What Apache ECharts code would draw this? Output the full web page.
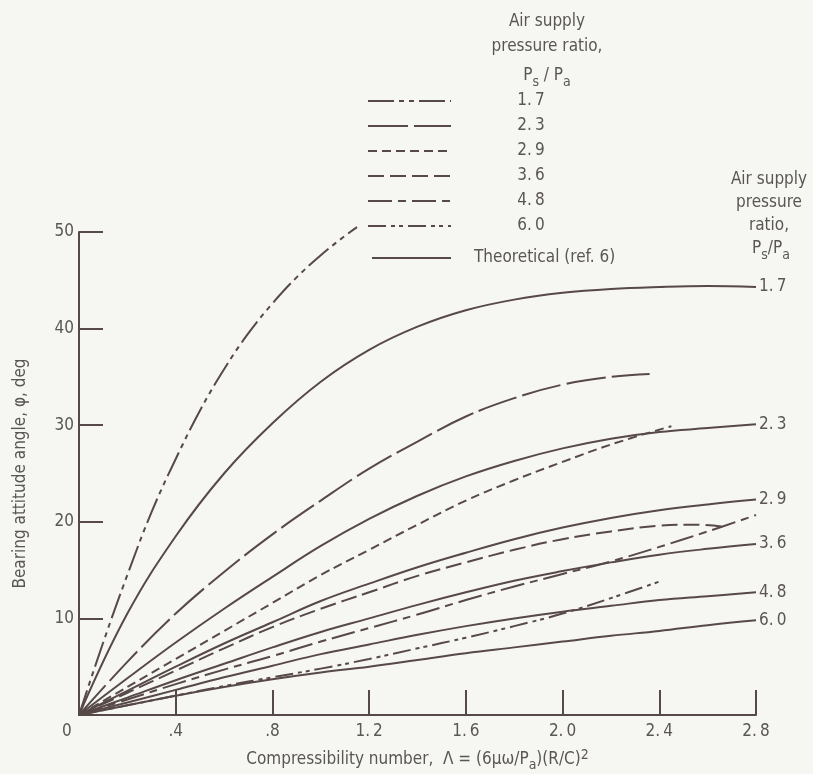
<!DOCTYPE html>
<html>
<head>
<meta charset="utf-8">
<script src="https://cdn.jsdelivr.net/npm/echarts@6/dist/echarts.min.js"></script>
<style>
  html, body { margin: 0; padding: 0; background: #f6f6f3; }
  #chart { width: 813px; height: 774px; }
</style>
</head>
<body>
<div id="chart"></div>
<script>
// pressure ratios, Ps/Pa
const ratios = ['1.7', '2.3', '2.9', '3.6', '4.8', '6.0']

// theoretical curves (ref. 6), all sampled at the same compressibility numbers
const thX = [0, 0.2, 0.4, 0.6, 0.8, 1.0, 1.2, 1.4, 1.6, 1.8, 2.0, 2.2, 2.4, 2.6, 2.8]
const th17 = [0, 10.5, 18.5, 25.0, 30.2, 34.5, 37.8, 40.2, 41.9, 43.0, 43.7, 44.1, 44.3, 44.4, 44.3]
const th23 = [0, 3.8, 7.5, 11, 14.3, 17.5, 20.3, 22.7, 24.7, 26.3, 27.6, 28.6, 29.3, 29.7, 30.1]
const th29 = [0, 2.5, 5, 7.4, 9.6, 11.8, 13.6, 15.3, 16.8, 18.2, 19.4, 20.4, 21.2, 21.8, 22.3]
const th36 = [0, 1.8, 3.6, 5.3, 7.0, 8.6, 10.0, 11.4, 12.7, 13.9, 14.9, 15.8, 16.6, 17.2, 17.7]
const th48 = [0, 1.3, 2.6, 3.9, 5.1, 6.3, 7.3, 8.3, 9.2, 10.0, 10.7, 11.3, 11.9, 12.3, 12.7]
const th60 = [0, 1.0, 2.0, 2.9, 3.7, 4.4, 5.0, 5.7, 6.4, 7.0, 7.6, 8.2, 8.7, 9.3, 9.8]

// experimental curves
const ex17X = [0, 0.1, 0.2, 0.3, 0.4, 0.5, 0.6, 0.7, 0.8, 0.9, 1.0, 1.1, 1.15]
const ex17 = [0, 7.5, 14.5, 21, 26.5, 31.5, 35.8, 39.5, 42.6, 45.3, 47.6, 49.6, 50.5]
const ex23X = [0, 0.2, 0.4, 0.6, 0.8, 1.0, 1.2, 1.4, 1.6, 1.8, 2.0, 2.2, 2.36]
const ex23 = [0, 5.5, 10.5, 14.8, 18.7, 22.2, 25.5, 28.3, 30.9, 32.8, 34.2, 35.0, 35.3]
const ex29X = [0, 0.2, 0.4, 0.6, 0.8, 1.0, 1.2, 1.4, 1.6, 1.8, 2.0, 2.2, 2.45]
const ex29 = [0, 2.9, 5.8, 8.7, 11.6, 14.5, 17.1, 19.7, 22.2, 24.3, 26.2, 28.0, 29.9]
const ex36X = [0, 0.2, 0.4, 0.6, 0.8, 1.0, 1.2, 1.4, 1.6, 1.8, 2.0, 2.2, 2.4, 2.55, 2.66]
const ex36 = [0, 2.3, 4.6, 6.9, 9.1, 11.0, 12.7, 14.4, 15.8, 17.1, 18.2, 19.0, 19.6, 19.7, 19.5]
const ex48X = [0, 0.2, 0.4, 0.6, 0.8, 1.0, 1.2, 1.4, 1.6, 1.8, 2.0, 2.2, 2.4, 2.6, 2.8]
const ex48 = [0, 1.6, 3.2, 4.7, 6.1, 7.6, 9.0, 10.4, 11.9, 13.3, 14.6, 15.9, 17.4, 19.0, 20.7]
const ex60X = [0, 0.2, 0.4, 0.6, 0.8, 1.0, 1.2, 1.4, 1.6, 1.8, 2.0, 2.2, 2.41]
const ex60 = [0, 1.0, 2.0, 3.0, 3.9, 4.8, 5.8, 6.9, 8.0, 9.2, 10.5, 12.1, 13.9]

const ink = '#574947'
const textColor = '#5a5654'
const font = '"DejaVu Sans Condensed", "DejaVu Sans", sans-serif'

// dash patterns per ratio, same order as ratios
const dashes = [
  [26, 5, 5, 5, 5, 5],
  [40, 6],
  [9, 5],
  [16, 6],
  [24, 6, 8, 6],
  [18, 5, 4, 4, 4, 5]
]

const zip = (xs, ys) => xs.map((x, i) => [x, ys[i]])

const theory = [th17, th23, th29, th36, th48, th60]
const expX = [ex17X, ex23X, ex29X, ex36X, ex48X, ex60X]
const expY = [ex17, ex23, ex29, ex36, ex48, ex60]

const series = []
theory.forEach((ys, i) => {
  series.push({
    name: 'Theoretical ' + ratios[i],
    type: 'line',
    data: zip(thX, ys),
    smooth: 0.4,
    showSymbol: false,
    clip: false,
    lineStyle: { color: ink, width: 2 },
    endLabel: {
      show: true,
      formatter: ratios[i].replace('.', '.\u2009'),
      color: textColor,
      fontFamily: font,
      fontSize: 17,
      distance: 3
    }
  })
})
expY.forEach((ys, i) => {
  series.push({
    name: 'Experimental ' + ratios[i],
    type: 'line',
    data: zip(expX[i], ys),
    smooth: 0.4,
    showSymbol: false,
    clip: false,
    lineStyle: { color: ink, width: 2, type: dashes[i] }
  })
})

// legend drawn as graphic
const legendTop = 101
const legendStep = 25
const graphic = []
ratios.forEach((r, i) => {
  const y = legendTop + i * legendStep
  graphic.push({
    type: 'line',
    shape: { x1: 368, y1: y, x2: 451, y2: y },
    style: { stroke: ink, lineWidth: 2, lineDash: dashes[i] }
  })
  graphic.push({
    type: 'text',
    x: 531, y: y,
    style: {
      text: r.replace('.', '.\u2009'), fill: textColor, font: '17px ' + font,
      textAlign: 'center', textVerticalAlign: 'middle'
    }
  })
})
graphic.push({
  type: 'line',
  shape: { x1: 372, y1: 258, x2: 451, y2: 258 },
  style: { stroke: ink, lineWidth: 2 }
})
graphic.push({
  type: 'text',
  x: 474, y: 258,
  style: {
    text: 'Theoretical (ref. 6)', fill: textColor, font: '17px ' + font,
    textAlign: 'left', textVerticalAlign: 'middle'
  }
})

// rich styles: graphic text uses fill, axis name uses color
const richG = {
  p: { fontSize: 17, fontFamily: font, fill: textColor },
  s: { fontSize: 14, fontFamily: font, fill: textColor, padding: [12, 0, 0, 0], verticalAlign: 'bottom' }
}
const richA = {
  p: { fontSize: 17, fontFamily: font, color: textColor },
  s: { fontSize: 14, fontFamily: font, color: textColor, padding: [8, 0, 0, 0], verticalAlign: 'bottom' },
  sup: { fontSize: 14, fontFamily: font, color: textColor, padding: [0, 0, 10, 0], verticalAlign: 'top' }
}

graphic.push({
  type: 'text',
  x: 547, y: 9,
  style: {
    text: 'Air supply\npressure ratio,',
    fill: textColor, font: '17px ' + font,
    textAlign: 'center', lineHeight: 25
  }
})
graphic.push({
  type: 'text',
  x: 547, y: 63,
  style: {
    text: '{p|P}{s|s}{p| / P}{s|a}',
    rich: richG,
    textAlign: 'center'
  }
})
graphic.push({
  type: 'text',
  x: 769, y: 168,
  style: {
    text: 'Air supply\npressure\nratio,',
    fill: textColor, font: '17px ' + font,
    textAlign: 'center', lineHeight: 23
  }
})
graphic.push({
  type: 'text',
  x: 771, y: 236,
  style: {
    text: '{p|P}{s|s}{p|/P}{s|a}',
    rich: richG,
    textAlign: 'center'
  }
})

const chart = echarts.init(document.getElementById('chart'))
chart.setOption({
  backgroundColor: '#f6f6f3',
  animation: false,
  grid: { left: 79, right: 57, top: 232, bottom: 59, containLabel: false, outerBoundsMode: 'none' },
  xAxis: {
    type: 'value',
    min: 0,
    max: 2.8,
    interval: 0.4,
    name: '{p|Compressibility number,  \u039b = (6\u03bc\u03c9/P}{s|a}{p|)(R/C)}{sup|2}',
    nameLocation: 'middle',
    nameGap: 33,
    nameTextStyle: { rich: richA },
    axisLine: { lineStyle: { color: ink, width: 2 } },
    axisTick: { inside: true, length: 25, lineStyle: { color: ink, width: 2 } },
    splitLine: { show: false },
    axisLabel: {
      color: textColor,
      fontFamily: font,
      fontSize: 17,
      margin: 8,
      formatter: v => {
        if (v === 0) return '0     '
        if (v < 1) return '.' + Math.round(v * 10)
        return v.toFixed(1).replace('.', '.\u2009')
      }
    }
  },
  yAxis: {
    type: 'value',
    min: 0,
    max: 50,
    interval: 10,
    name: 'Bearing attitude angle, \u03c6, deg',
    nameLocation: 'middle',
    nameGap: 50,
    nameRotate: 90,
    nameTextStyle: { color: textColor, fontFamily: font, fontSize: 17 },
    axisLine: { show: true, lineStyle: { color: ink, width: 2 } },
    axisTick: { show: true, inside: true, length: 24, lineStyle: { color: ink, width: 2 } },
    splitLine: { show: false },
    axisLabel: {
      color: textColor,
      fontFamily: font,
      fontSize: 17,
      margin: 5,
      formatter: v => (v === 0 ? '' : String(v))
    }
  },
  graphic: graphic,
  series: series
})
</script>
</body>
</html>
